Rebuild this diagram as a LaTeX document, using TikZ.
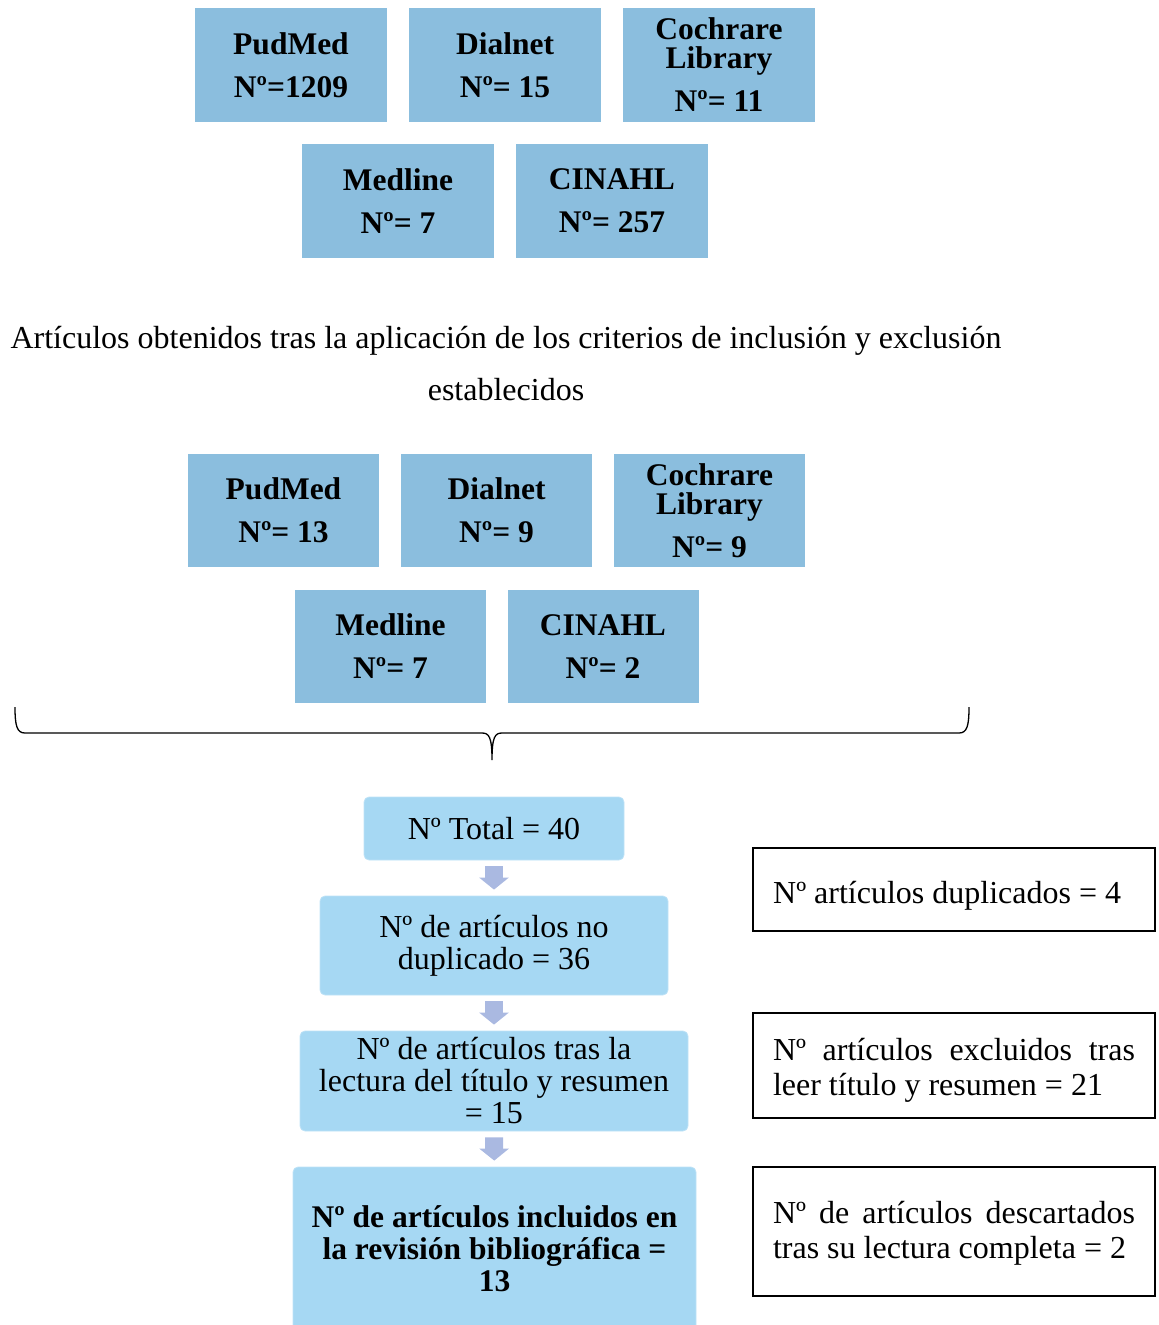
\documentclass[tikz,border=0pt]{standalone}
\usepackage{fontspec}
\setmainfont{Liberation Serif}
\usetikzlibrary{arrows.meta}
\definecolor{dbcol}{RGB}{139,190,222}
\definecolor{flowcol}{RGB}{166,216,243}
\definecolor{flowedge}{RGB}{190,226,246}
\definecolor{arrowcol}{RGB}{170,185,225}
\tikzset{
  dbbox/.style={fill=dbcol, minimum width=192pt, minimum height=114pt, inner sep=0pt, align=center,
    font=\fontsize{31.5}{43}\selectfont\bfseries},
  flowbox/.style={fill=flowcol, draw=flowedge, line width=0.8pt, rounded corners=5pt, inner sep=0pt, align=center,
    font=\fontsize{32}{32}\selectfont},
  noterect/.style={draw=black, line width=1.2pt, minimum width=402pt, inner sep=0pt},
  notepar/.style={inner sep=0pt, text width=362pt, align=justify, font=\fontsize{32}{35}\selectfont},
  notetext/.style={inner sep=0pt, font=\fontsize{32}{33}\selectfont},
  plain/.style={inner sep=0pt, font=\fontsize{32}{32}\selectfont},
  flowarrow/.style={draw=arrowcol, line width=18pt, -{Triangle[width=29pt,length=12pt]}, shorten <=6pt, shorten >=6pt},
  bracepath/.style={draw=black, line width=1.3pt}
}
\begin{document}
\begin{tikzpicture}[x=1pt,y=-1pt]
\useasboundingbox (0,0) rectangle (1159,1325);
\clip (0,0) rectangle (1159,1325);
% first group
\node[dbbox] (a1) at (291,65) {PudMed\\Nº=1209};
\node[dbbox] (a2) at (505,65) {Dialnet\\Nº= 15};
\node[dbbox] (a3) at (719,65) {Cochrare\\[-14pt]Library\\Nº= 11};
\node[dbbox] (a4) at (398,201) {Medline\\Nº= 7};
\node[dbbox] (a5) at (612,201) {CINAHL\\Nº= 257};
% text
\node[plain, anchor=base] (t1) at (506,348) {Artículos obtenidos tras la aplicación de los criterios de inclusión y exclusión};
\node[plain, anchor=base] (t2) at (506,400) {establecidos};
% second group
\node[dbbox, minimum width=191pt, minimum height=113pt] (b1) at (283.5,510.5) {PudMed\\Nº= 13};
\node[dbbox, minimum width=191pt, minimum height=113pt] (b2) at (496.5,510.5) {Dialnet\\Nº= 9};
\node[dbbox, minimum width=191pt, minimum height=113pt] (b3) at (709.5,510.5) {Cochrare\\[-14pt]Library\\Nº= 9};
\node[dbbox, minimum width=191pt, minimum height=113pt] (b4) at (390.5,646.5) {Medline\\Nº= 7};
\node[dbbox, minimum width=191pt, minimum height=113pt] (b5) at (603,646.5) {CINAHL\\Nº= 2};
% brace
\coordinate (bl) at (15,707);
\coordinate (bt) at (492,760);
\coordinate (br) at (969,707);
\draw[bracepath] (bl) .. controls (15,726) and (17,733) .. (25,733) -- (482,733)
  .. controls (489,733) and (492,737) .. (bt)
  .. controls (492,737) and (495,733) .. (502,733) -- (959,733)
  .. controls (967,733) and (969,726) .. (br);
% flow
\node[flowbox, minimum width=260pt, minimum height=63pt] (f1) at (494,828.5) {Nº Total = 40};
\node[flowbox, minimum width=348pt, minimum height=99pt] (f2) at (494,945.5) {Nº de artículos no\\duplicado = 36};
\node[flowbox, minimum width=388pt, minimum height=100pt] (f3) at (494,1081) {Nº de artículos tras la\\lectura del título y resumen\\= 15};
\node[flowbox, minimum width=403pt, minimum height=163pt, font=\fontsize{31.5}{32}\selectfont\bfseries] (f4) at (494.5,1248.5) {Nº de artículos incluidos en\\la revisión bibliográfica =\\13};
\draw[flowarrow] (f1) -- (f2);
\draw[flowarrow] (f2) -- (f3);
\draw[flowarrow] (f3) -- (f4);
% notes
\node[noterect, minimum height=83pt] (n1) at (954,889.5) {};
\node[notetext, anchor=base west] (n1t) at (773,903) {Nº artículos duplicados = 4};
\node[noterect, minimum height=105pt] (n2) at (954,1065.5) {};
\node[notepar] (n2t) at (954,1070) {Nº artículos excluidos tras\linebreak leer título y resumen = 21};
\node[noterect, minimum height=129pt] (n3) at (954,1231.5) {};
\node[notepar] (n3t) at (954,1233) {Nº de artículos descartados\linebreak tras su lectura completa = 2};
\end{tikzpicture}
\end{document}
